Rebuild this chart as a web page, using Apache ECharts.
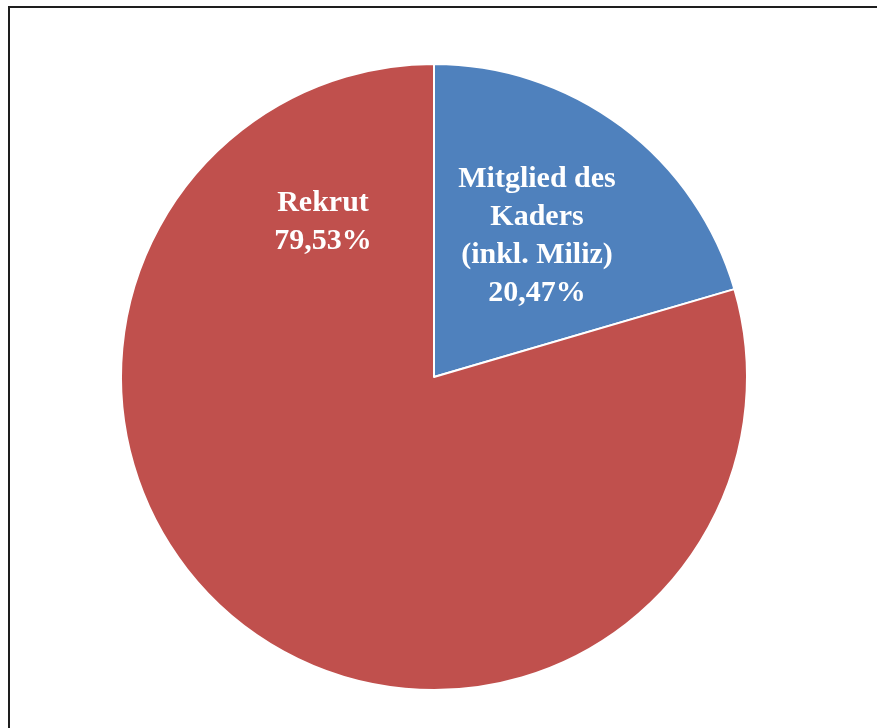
<!DOCTYPE html>
<html>
<head>
  <meta charset="utf-8">
  <title>Rekrut / Kader</title>
  <script src="https://cdn.jsdelivr.net/npm/echarts@6/dist/echarts.min.js"></script>
  <style>
    html, body { margin: 0; padding: 0; background: #fff; overflow: hidden; }
    #frame { position: absolute; left: 8px; top: 6px; width: 1000px; height: 1000px; border: 2px solid #1e1e1e; }
    #main { position: absolute; left: 0; top: 0; width: 877px; height: 728px; }
  </style>
</head>
<body>
  <div id="frame"></div>
  <div id="main"></div>
  <script type="text/javascript">
    var categories = ['Mitglied des\nKaders\n(inkl. Miliz)', 'Rekrut'];
    var values = [20.47, 79.53];
    var colors = ['#4f81bd', '#c0504d'];
    // label centres, relative to the pie centre (px)
    var labelOffsets = [[103, -141], [-111, -155]];

    var myChart = echarts.init(document.getElementById('main'));
    var cx = 434, cy = 377;

    var option = {
      animation: false,
      series: [
        {
          type: 'pie',
          center: [cx, cy],
          radius: 313,
          startAngle: 90,
          clockwise: true,
          itemStyle: { borderColor: '#fff', borderWidth: 2 },
          label: {
            show: true,
            position: 'inside',
            color: '#fff',
            fontFamily: 'Liberation Serif',
            fontWeight: 'bold',
            fontSize: 30,
            lineHeight: 38,
            align: 'center',
            formatter: function (p) {
              return p.name + '\n' + p.value.toFixed(2).replace('.', ',') + '%';
            }
          },
          labelLine: { show: false },
          labelLayout: function (params) {
            var o = labelOffsets[params.dataIndex];
            return { x: cx + o[0], y: cy + o[1], align: 'center', verticalAlign: 'middle' };
          },
          data: categories.map(function (name, i) {
            return { name: name, value: values[i], itemStyle: { color: colors[i] } };
          })
        }
      ]
    };
    myChart.setOption(option);
  </script>
</body>
</html>
